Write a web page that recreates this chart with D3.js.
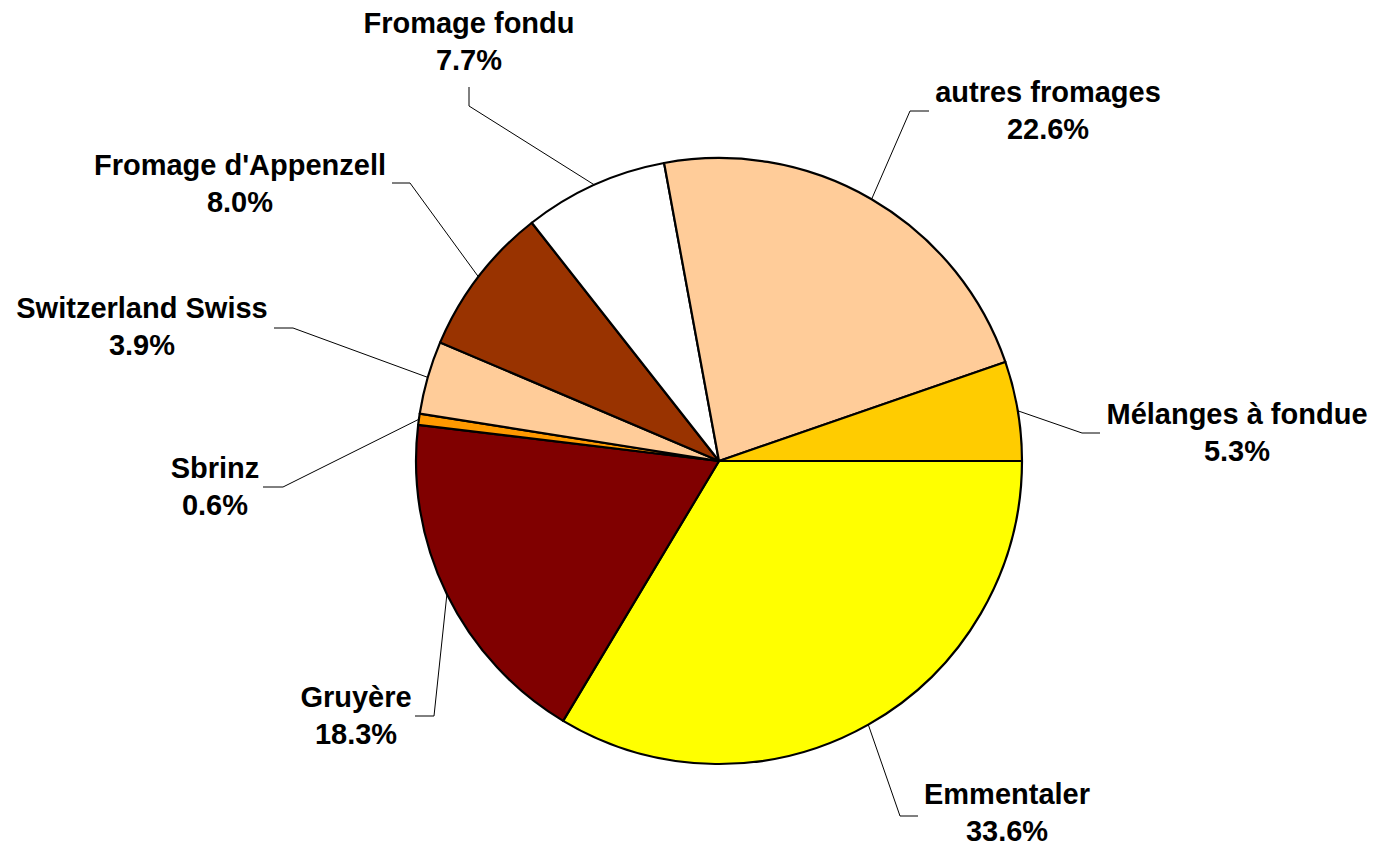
<!DOCTYPE html>
<html>
<head>
<meta charset="utf-8">
<script src="https://cdn.jsdelivr.net/npm/d3@7"></script>
<style>
  html, body { margin: 0; padding: 0; background: #fff; }
  svg { display: block; }
  .label { font-family: 'Liberation Sans', Arial, sans-serif; font-weight: bold; font-size: 29px; fill: #000; }
  .leader { fill: none; stroke: #000; stroke-width: 1; }
</style>
</head>
<body>
<svg id="chart"></svg>
<script>
// data, in pie order starting at 3 o'clock going clockwise
const CHEESES = ['Emmentaler', 'Gruyère', 'Sbrinz', 'Switzerland Swiss',
  "Fromage d'Appenzell", 'Fromage fondu', 'autres fromages', 'Mélanges à fondue']
const SHARES = [33.6, 18.3, 0.6, 3.9, 8.0, 7.7, 22.6, 5.3]
const COLORS = ['#ffff00', '#800000', '#ff9900', '#ffcc99',
  '#993300', '#ffffff', '#ffcc99', '#ffcc00']

const WIDTH = 1375
const HEIGHT = 848
const CENTER = [719, 461]
const RADIUS = 303
const LINE_GAP = 37

// manual label placement (text centre x, first baseline y, elbow, leader end)
const LABEL_LAYOUT = [
  { x: 1007, y: 804, elbow: [900, 816], end: [918, 816] },
  { x: 356, y: 707, elbow: [434, 716], end: [415, 716] },
  { x: 215, y: 478, elbow: [283, 487], end: [263, 487] },
  { x: 142, y: 318, elbow: [293, 328], end: [274, 328] },
  { x: 240, y: 175, elbow: [410, 183], end: [392, 183] },
  { x: 469, y: 33, elbow: [469, 106], end: [469, 87] },
  { x: 1048, y: 102, elbow: [910, 111], end: [929, 111] },
  { x: 1237, y: 424, elbow: [1082, 433], end: [1100, 433] }
]

class PieChart {
  constructor(selector) {
    this.svg = d3.select(selector)
      .attr('width', WIDTH)
      .attr('height', HEIGHT)
    this.chart = this.svg.append('g')
      .attr('transform', `translate(${CENTER[0]}, ${CENTER[1]})`)
    this.setData()
  }

  setData() {
    this.data = CHEESES.map((name, i) => ({ name, value: SHARES[i], color: COLORS[i], layout: LABEL_LAYOUT[i] }))
    this.arcs = d3.pie()
      .sort(null)
      .value(d => d.value)
      .startAngle(Math.PI / 2)
      .endAngle(Math.PI / 2 + 2 * Math.PI)(this.data)
    this.arc = d3.arc().innerRadius(0).outerRadius(RADIUS)
  }

  slices() {
    this.chart.selectAll('path.slice')
      .data(this.arcs)
      .enter()
      .append('path')
      .attr('class', 'slice')
      .attr('d', this.arc)
      .attr('fill', d => d.data.color)
      .attr('stroke', '#000')
      .attr('stroke-width', 2.2)
      .attr('stroke-linejoin', 'round')
  }

  leaders() {
    const edge = d => {
      const a = (d.startAngle + d.endAngle) / 2
      return [CENTER[0] + RADIUS * Math.sin(a), CENTER[1] - RADIUS * Math.cos(a)]
    }
    this.svg.selectAll('path.leader')
      .data(this.arcs)
      .enter()
      .append('path')
      .attr('class', 'leader')
      .attr('d', d => d3.line()([edge(d), d.data.layout.elbow, d.data.layout.end]))
  }

  labels() {
    const g = this.svg.selectAll('text.label')
      .data(this.arcs)
      .enter()
      .append('text')
      .attr('class', 'label')
      .attr('text-anchor', 'middle')
    g.append('tspan')
      .attr('x', d => d.data.layout.x)
      .attr('y', d => d.data.layout.y)
      .text(d => d.data.name)
    g.append('tspan')
      .attr('x', d => d.data.layout.x)
      .attr('y', d => d.data.layout.y + LINE_GAP)
      .text(d => `${d.data.value.toFixed(1)}%`)
  }
}

const chart = new PieChart('#chart')
chart.leaders()
chart.slices()
chart.labels()
</script>
</body>
</html>
